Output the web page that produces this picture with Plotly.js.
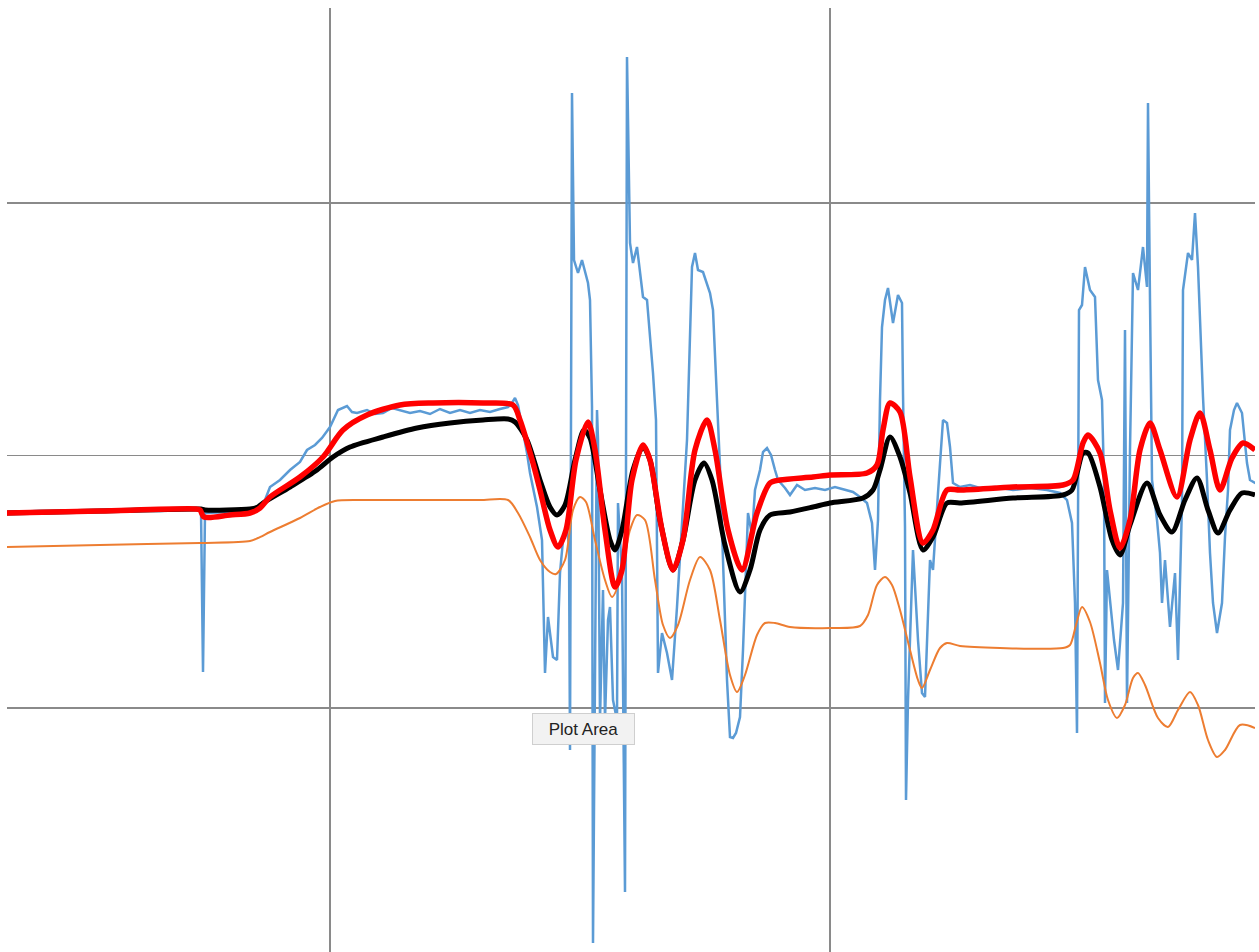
<!DOCTYPE html>
<html>
<head>
<meta charset="utf-8">
<script src="https://cdn.plot.ly/plotly-3.0.1.min.js"></script>
<style>html,body{margin:0;padding:0;background:#fff;}#chart{width:1259px;height:952px;}</style>
</head>
<body>
<div id="chart"></div>
<script>
// Measured signal (noisy)
const measuredX = [677,710,750,790,830,865,871,873,875,900,920,925,930,935,940,950,960,970,977,985,992,1000,1008,1017,1022,1027,1037,1045,1053,1062,1070,1080,1090,1100,1110,1120,1130,1140,1150,1160,1170,1178,1182,1185,1188,1192,1197,1200,1207,1212,1215,1218,1223,1227,1230,1233,1237,1239,1240,1242,1244,1248,1252,1258,1260,1262,1263,1267,1268,1270,1273,1275,1278,1280,1283,1287,1288,1292,1295,1297,1300,1303,1307,1313,1317,1323,1326,1328,1332,1337,1342,1347,1352,1357,1362,1365,1368,1373,1380,1383,1387,1390,1393,1397,1400,1403,1406,1410,1413,1415,1418,1422,1425,1430,1433,1437,1441,1445,1448,1455,1460,1467,1475,1485,1495,1505,1515,1523,1530,1537,1542,1545,1548,1550,1552,1555,1558,1563,1568,1572,1573,1575,1576,1578,1583,1588,1592,1595,1600,1603,1608,1613,1617,1620,1623,1630,1640,1650,1665,1683,1700,1717,1730,1737,1742,1745,1747,1749,1752,1755,1760,1765,1768,1772,1774,1775,1777,1780,1784,1788,1793,1795,1797,1800,1803,1808,1813,1817,1818,1820,1822,1827,1830,1832,1835,1840,1845,1848,1852,1853,1858,1862,1865,1868,1873,1877,1880,1883,1887,1892,1895,1898,1900,1904,1907,1912,1917,1920,1925,1930];
const measuredY = [196,197,196,198,197,199,198,36,195,196,195,198,201,208,221,228,238,246,258,263,270,281,298,302,296,295,298,294,295,300,298,295,297,294,299,295,298,295,298,296,299,301,305,310,303,283,255,235,201,168,35,91,51,48,135,168,178,163,-42,615,448,435,448,425,408,301,-235,298,268,-12,118,-12,88,101,8,-12,205,135,-184,651,465,445,461,411,408,335,288,35,75,55,28,101,185,268,441,455,438,436,415,398,308,241,148,28,-29,-30,-25,-9,58,111,195,173,218,238,256,260,253,238,228,220,213,223,218,220,218,221,218,216,211,205,185,138,188,308,381,408,420,385,413,405,315,181,-92,8,158,68,15,11,148,138,215,288,285,261,225,221,223,220,221,218,220,218,215,208,185,105,-25,398,403,441,418,411,328,308,228,5,138,108,68,38,105,378,5,258,435,418,461,421,605,408,228,188,155,105,148,81,135,48,205,418,455,448,495,441,311,228,155,105,75,105,171,218,278,298,305,295,245,228,225,223];

// Lagged / offset response (orange)
const offsetX = [677,770,870,920,928,940,970,990,1005,1030,1090,1150,1178,1188,1200,1210,1220,1226,1235,1243,1250,1256,1265,1275,1282,1290,1300,1307,1315,1325,1333,1340,1348,1360,1370,1380,1390,1400,1407,1415,1427,1435,1445,1460,1500,1530,1538,1547,1555,1562,1570,1580,1588,1592,1600,1610,1617,1630,1670,1733,1740,1746,1752,1760,1770,1778,1787,1795,1803,1808,1815,1828,1838,1848,1860,1868,1878,1887,1895,1910,1925];
const offsetY = [161,163,165,167,170,176,190,201,207,208,208,208,208,195,171,148,136,134,148,198,211,206,168,128,111,128,178,193,188,128,83,70,83,128,151,138,88,33,16,33,73,85,85,81,80,82,93,123,131,123,98,58,28,20,38,60,65,62,60,60,63,83,101,86,45,8,-10,3,30,35,23,-10,-19,-2,16,3,-32,-49,-42,-17,-20];

// Smoothed estimate (black)
const smoothX = [677,770,865,871,875,920,928,933,960,987,1003,1020,1053,1087,1120,1153,1178,1185,1197,1210,1220,1227,1235,1245,1254,1260,1270,1280,1285,1292,1303,1313,1320,1330,1343,1353,1365,1374,1382,1395,1410,1420,1430,1440,1460,1483,1500,1533,1543,1550,1560,1570,1580,1593,1603,1617,1630,1683,1733,1742,1753,1758,1770,1782,1790,1800,1817,1830,1842,1855,1867,1878,1888,1900,1912,1925];
const smoothY = [195,197,199,199,198,199,201,205,221,238,251,261,271,280,285,288,289,286,268,228,201,193,203,248,278,270,218,168,158,178,238,261,248,188,138,168,228,245,228,163,116,138,178,193,196,201,205,210,218,238,271,251,215,158,171,205,205,210,213,218,255,255,221,168,153,183,225,193,176,208,230,198,175,198,215,213];

// Fast estimate (red)
const fastX = [677,770,865,870,874,900,920,930,940,970,993,1013,1037,1070,1103,1153,1183,1190,1203,1210,1220,1228,1236,1246,1258,1265,1275,1285,1292,1302,1313,1320,1332,1343,1353,1365,1377,1385,1398,1412,1427,1440,1450,1483,1500,1537,1547,1553,1560,1570,1580,1593,1603,1617,1630,1683,1733,1743,1753,1758,1770,1780,1790,1800,1810,1820,1830,1847,1860,1870,1880,1890,1902,1913,1925];
const fastY = [195,197,199,198,191,193,195,200,211,231,251,278,293,303,305,305,303,288,245,218,178,161,178,248,286,258,178,121,138,228,263,248,178,138,168,258,288,258,178,138,195,225,228,231,233,235,243,278,305,296,231,165,178,218,218,221,223,228,265,273,255,198,160,188,258,285,258,211,268,295,258,218,250,265,258];

const gridTicksX = {tick0: 0, dtick: 500};
const gridTicksY = {tick0: 0, dtick: 252.5};
const tooltipText = "Plot Area";

const traces = [
  {x: measuredX, y: measuredY, type: 'scatter', mode: 'lines', line: {color: '#5b9bd5', width: 2.5}, hoverinfo: 'skip'},
  {x: offsetX, y: offsetY, type: 'scatter', mode: 'lines', line: {color: '#ed7d31', width: 2, shape: 'spline', smoothing: 0.8}, hoverinfo: 'skip'},
  {x: smoothX, y: smoothY, type: 'scatter', mode: 'lines', line: {color: '#000000', width: 5, shape: 'spline', smoothing: 0.8}, hoverinfo: 'skip'},
  {x: fastX, y: fastY, type: 'scatter', mode: 'lines', line: {color: '#ff0000', width: 5.5, shape: 'spline', smoothing: 0.8}, hoverinfo: 'skip'}
];

const layout = {
  width: 1259, height: 952,
  margin: {l: 7, r: 4, t: 8, b: 0, pad: 0},
  paper_bgcolor: '#ffffff', plot_bgcolor: '#ffffff',
  showlegend: false,
  xaxis: {range: [677, 1925], tick0: gridTicksX.tick0, dtick: gridTicksX.dtick, showgrid: true, gridcolor: '#8a8a8a', gridwidth: 1.5, zeroline: false, showticklabels: false, ticks: '', showline: false, fixedrange: true},
  yaxis: {range: [-244, 700], tick0: gridTicksY.tick0, dtick: gridTicksY.dtick, showgrid: true, gridcolor: '#8a8a8a', gridwidth: 1.5, zeroline: false, showticklabels: false, ticks: '', showline: false, fixedrange: true},
  annotations: [{
    x: 1253, y: -21, xref: 'x', yref: 'y', text: tooltipText, showarrow: false,
    font: {family: 'Liberation Sans, Arial, sans-serif', size: 17, color: '#222222'},
    bgcolor: '#f2f2f2', bordercolor: '#cfcfcf', borderwidth: 1, borderpad: 4,
    width: 93, height: 22, xanchor: 'center', yanchor: 'middle'
  }]
};

Plotly.newPlot('chart', traces, layout, {displayModeBar: false, staticPlot: true});
</script>
</body>
</html>
